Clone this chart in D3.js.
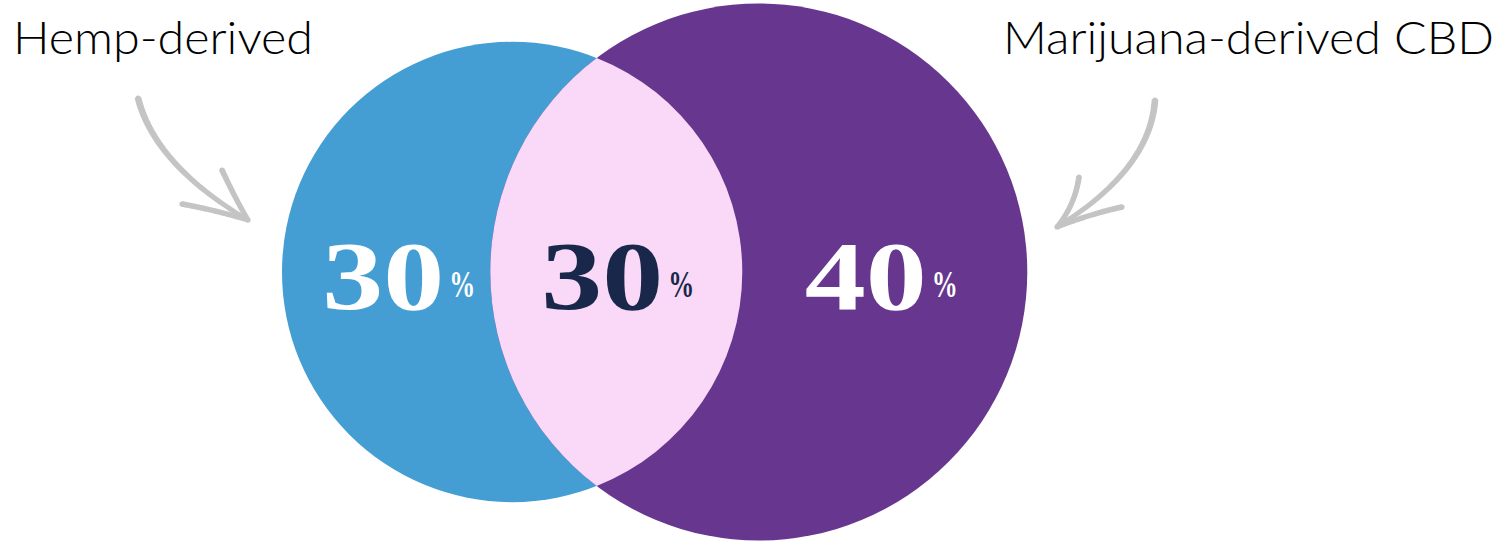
<!DOCTYPE html>
<html>
<head>
<meta charset="utf-8">
<script src="https://cdn.jsdelivr.net/npm/d3@7"></script>
<style>
  html, body { margin: 0; padding: 0; background: #ffffff; }
  svg { display: block; }
</style>
</head>
<body>
<svg id="chart" width="1512" height="541"></svg>
<script>
// ---- data ----
const setNames = ["Hemp-derived", "Marijuana-derived CBD"];
const regionNames = ["Hemp only", "Both", "Marijuana only"];
const regionShares = [30, 30, 40];          // percent of respondents in each region
const regionColors = ["#449DD3", "#F9D9F7", "#67368E"];
const regionTextColors = ["#FFFFFF", "#19284A", "#FFFFFF"];

// ---- layout ----
const W = 1512, H = 541;
const cy = 272;
const leftEdge = 282;
const lensWidth = 252;

const svg = d3.select("#chart");

// circle totals: each set = its own region + shared region
const setTotals = [regionShares[0] + regionShares[1], regionShares[2] + regionShares[1]];
const rScale = d3.scaleLinear().domain([0, d3.max(setTotals)]).range([0, 268.5]);
const r = setTotals.map(rScale);

const cx0 = leftEdge + r[0];
const dist = r[0] + r[1] - lensWidth;
const cx1 = cx0 + dist;

// intersection of the two circles
const a = (dist * dist + r[0] * r[0] - r[1] * r[1]) / (2 * dist);
const hh = Math.sqrt(r[0] * r[0] - a * a);
const ix = cx0 + a;

// circles
svg.append("circle").attr("cx", cx0).attr("cy", cy).attr("r", r[0]).attr("fill", regionColors[0]);
svg.append("circle").attr("cx", cx1).attr("cy", cy).attr("r", r[1]).attr("fill", regionColors[2]);

// shared lens
const lens = `M${ix},${cy - hh} A${r[0]},${r[0]} 0 0 1 ${ix},${cy + hh} A${r[1]},${r[1]} 0 0 1 ${ix},${cy - hh} Z`;
svg.append("path").attr("d", lens).attr("fill", regionColors[1]);

// region label anchors (centre of each horizontal span)
const spans = [
  [cx0 - r[0], cx1 - r[1]],
  [cx1 - r[1], cx0 + r[0]],
  [cx0 + r[0], cx1 + r[1]]
];
const nudge = [12, 1, -4];
const labelY = 309;

regionShares.forEach((v, i) => {
  const mid = (spans[i][0] + spans[i][1]) / 2 + nudge[i];
  const g = svg.append("g").attr("transform", `translate(${mid},0)`);
  g.append("text")
    .attr("x", 46).attr("y", labelY)
    .attr("text-anchor", "end")
    .attr("font-family", "'Liberation Serif', 'Times New Roman', serif")
    .attr("font-weight", 700)
    .attr("font-size", 98)
    .attr("textLength", 122)
    .attr("lengthAdjust", "spacingAndGlyphs")
    .attr("fill", regionTextColors[i])
    .text(v);
  g.append("text")
    .attr("x", 51).attr("y", labelY - 12)
    .attr("text-anchor", "start")
    .attr("font-family", "'Liberation Serif', 'Times New Roman', serif")
    .attr("font-weight", 700)
    .attr("font-size", 37)
    .attr("textLength", 26)
    .attr("lengthAdjust", "spacingAndGlyphs")
    .attr("fill", regionTextColors[i])
    .text("%");
});

// set titles
function fitText(sel, w) {
  sel.attr("textLength", w).attr("lengthAdjust", "spacingAndGlyphs");
}
const t0 = svg.append("text")
  .attr("x", 13).attr("y", 54)
  .attr("font-family", "Lato, 'Open Sans', sans-serif")
  .attr("font-weight", 300)
  .attr("font-size", 45)
  .attr("fill", "#000")
  .text(setNames[0]);
fitText(t0, 300);
const t1 = svg.append("text")
  .attr("x", 1003).attr("y", 54)
  .attr("font-family", "Lato, 'Open Sans', sans-serif")
  .attr("font-weight", 300)
  .attr("font-size", 45)
  .attr("fill", "#000")
  .text(setNames[1]);
fitText(t1, 491);

// hand-drawn style arrows: tapered quadratic strokes
function taper(p0, c, p1, w0, w1) {
  const n = 40, left = [], right = [];
  for (let k = 0; k <= n; k++) {
    const t = k / n, u = 1 - t;
    const x = u * u * p0[0] + 2 * u * t * c[0] + t * t * p1[0];
    const y = u * u * p0[1] + 2 * u * t * c[1] + t * t * p1[1];
    const dx = 2 * u * (c[0] - p0[0]) + 2 * t * (p1[0] - c[0]);
    const dy = 2 * u * (c[1] - p0[1]) + 2 * t * (p1[1] - c[1]);
    const len = Math.hypot(dx, dy) || 1;
    const w = (w0 + (w1 - w0) * t) / 2;
    left.push([x - dy / len * w, y + dx / len * w]);
    right.push([x + dy / len * w, y - dx / len * w]);
  }
  return d3.line()(left.concat(right.reverse())) + "Z";
}

const arrowColor = "#C4C4C4";
const arrows = [
  { shaft: [[138, 98], [155, 165], [248, 220]],
    heads: [[[222, 170], [236, 200], [248, 220]], [[182, 204], [215, 210], [248, 220]]] },
  { shaft: [[1155, 100], [1150, 170], [1057, 227]],
    heads: [[[1079, 177], [1075, 205], [1057, 227]], [[1122, 207], [1090, 214], [1057, 227]]] }
];
arrows.forEach(ar => {
  const g = svg.append("g").attr("fill", arrowColor).attr("stroke", arrowColor)
    .attr("stroke-width", 1.2).attr("stroke-linejoin", "round");
  g.append("path").attr("d", taper(ar.shaft[0], ar.shaft[1], ar.shaft[2], 5.5, 3.5));
  ar.heads.forEach(hd => g.append("path").attr("d", taper(hd[0], hd[1], hd[2], 4.5, 4)));
  [ar.shaft[0], ar.heads[0][0], ar.heads[1][0], ar.shaft[2]].forEach(p =>
    g.append("circle").attr("cx", p[0]).attr("cy", p[1]).attr("r", 2.6).attr("stroke", "none"));
});
</script>
</body>
</html>
